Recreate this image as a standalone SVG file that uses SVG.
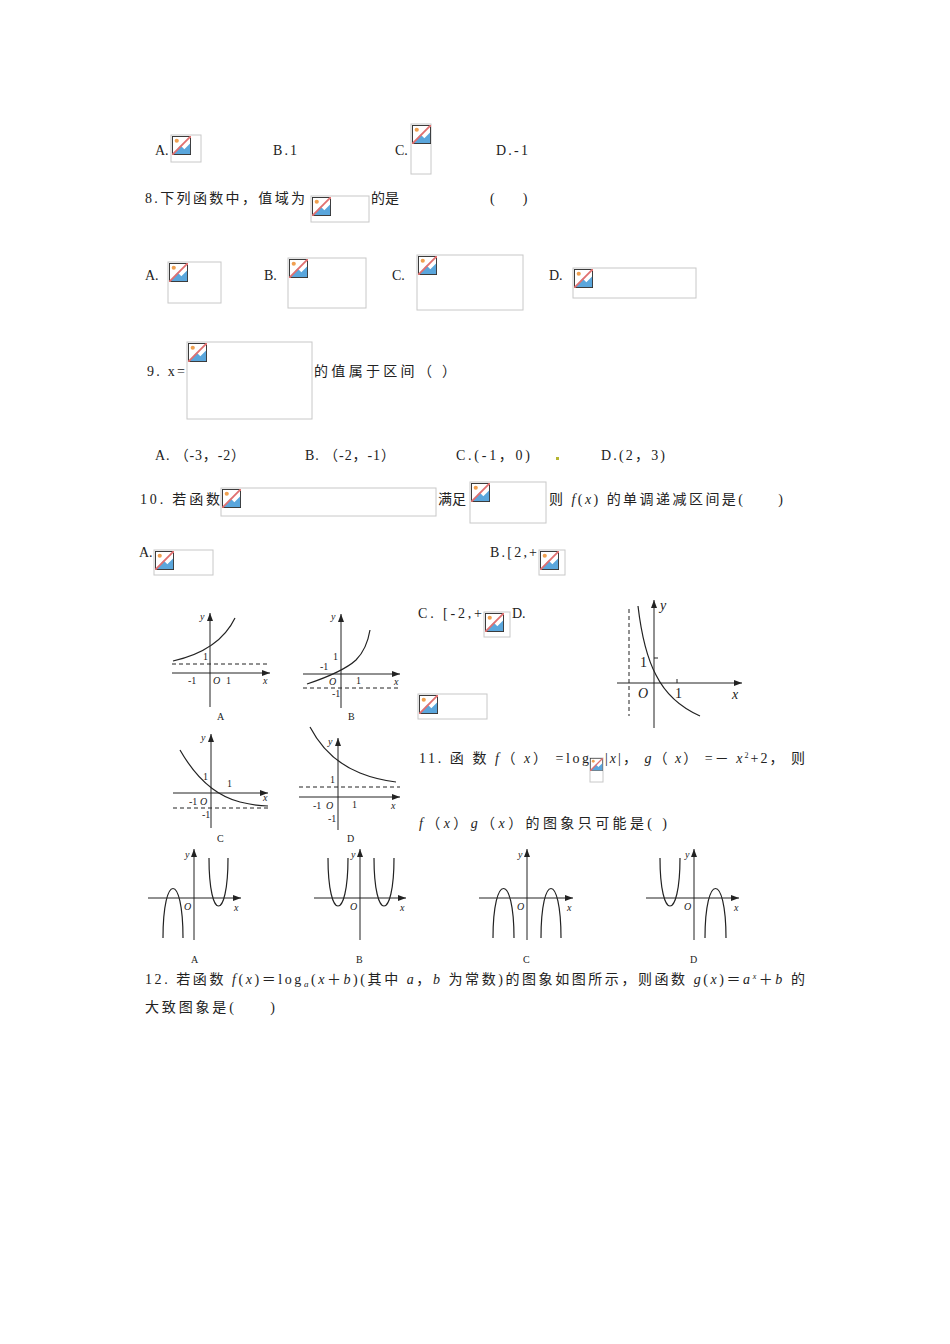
<svg xmlns="http://www.w3.org/2000/svg" width="950" height="1344" viewBox="0 0 950 1344">
<style>
text{font-family:"Liberation Serif","Noto Sans CJK SC",serif;font-size:14px;fill:#222}
.s{font-size:10px}
.i{font-style:italic}
.ph{fill:none;stroke:#c8c8c8;stroke-width:1}
.ax{stroke:#222;stroke-width:1;fill:none}
.cv{stroke:#222;stroke-width:1.2;fill:none}
.ds{stroke:#222;stroke-width:1;stroke-dasharray:4,3;fill:none}
</style>
<defs>
<symbol id="ic" viewBox="0 0 20 20">
<rect x="0.5" y="0.5" width="19" height="19" fill="#fff" stroke="#333"/>
<path d="M1 19 L9 10 L13 14 L19 8 L19 19 Z" fill="#5aa6dc"/>
<circle cx="5" cy="5" r="2.2" fill="#f0a050"/>
<line x1="0" y1="20" x2="20" y2="0" stroke="#e07070" stroke-width="2"/>
</symbol>
<marker id="ar" viewBox="0 0 8 6" refX="8" refY="3" markerWidth="8" markerHeight="6" orient="auto"><path d="M0 0 L8 3 L0 6 Z" fill="#222"/></marker>
</defs>
<!-- row 1 -->
<text x="155" y="155">A.</text><rect class="ph" x="171" y="135" width="30" height="27"/><use href="#ic" x="172" y="136" width="19" height="19"/>
<text x="273" y="155" textLength="24" lengthAdjust="spacing">B.1</text>
<text x="395" y="155">C.</text><rect class="ph" x="411" y="124" width="20" height="50"/><use href="#ic" x="412" y="125" width="19" height="19"/>
<text x="496" y="155" textLength="32" lengthAdjust="spacing">D.-1</text>
<!-- 8 -->
<text x="145" y="203" textLength="160" lengthAdjust="spacing">8.下列函数中，值域为</text><rect class="ph" x="311" y="196" width="58" height="26"/><use href="#ic" x="312" y="197" width="19" height="19"/>
<text x="371" y="203">的是</text><text x="490" y="203">(　　)</text>
<text x="145" y="280">A.</text><rect class="ph" x="168" y="262" width="53" height="41"/><use href="#ic" x="169" y="263" width="19" height="19"/>
<text x="264" y="280">B.</text><rect class="ph" x="288" y="258" width="78" height="50"/><use href="#ic" x="289" y="259" width="19" height="19"/>
<text x="392" y="280">C.</text><rect class="ph" x="417" y="255" width="106" height="55"/><use href="#ic" x="418" y="256" width="19" height="19"/>
<text x="549" y="280">D.</text><rect class="ph" x="573" y="268" width="123" height="30"/><use href="#ic" x="574" y="269" width="19" height="19"/>
<!-- 9 -->
<text x="147" y="376" textLength="38" lengthAdjust="spacing">9.  x=</text><rect class="ph" x="187" y="342" width="125" height="77"/><use href="#ic" x="188" y="343" width="19" height="19"/>
<text x="314" y="376" textLength="142" lengthAdjust="spacing">的值属于区间（    ）</text>
<text x="155" y="460" textLength="90" lengthAdjust="spacing">A. （-3，-2）</text><text x="305" y="460" textLength="90" lengthAdjust="spacing">B. （-2，-1）</text><text x="456" y="460" textLength="74" lengthAdjust="spacing">C.(-1，0)</text>
<rect x="556" y="457" width="3" height="3" fill="#b5b530"/>
<text x="601" y="460" textLength="64" lengthAdjust="spacing">D.(2，3)</text>
<!-- 10 -->
<text x="140" y="504" textLength="80" lengthAdjust="spacing">10.  若函数</text><rect class="ph" x="221" y="488" width="215" height="28"/><use href="#ic" x="222" y="489" width="19" height="19"/>
<text x="438" y="504">满足</text><rect class="ph" x="470" y="482" width="76" height="41"/><use href="#ic" x="471" y="483" width="19" height="19"/>
<text x="549" y="504" textLength="234" lengthAdjust="spacing">则 <tspan class="i">f</tspan>(<tspan class="i">x</tspan>) 的单调递减区间是(　　)</text>
<text x="139" y="557">A.</text><rect class="ph" x="154" y="550" width="59" height="25"/><use href="#ic" x="155" y="551" width="19" height="19"/>
<text x="490" y="557" textLength="47" lengthAdjust="spacing">B.[2,+</text><rect class="ph" x="539" y="550" width="26" height="25"/><use href="#ic" x="540" y="551" width="19" height="19"/>
<text x="418" y="618" textLength="64" lengthAdjust="spacing">C.  [-2,+</text><rect class="ph" x="484" y="612" width="26" height="25"/><use href="#ic" x="485" y="613" width="19" height="19"/>
<text x="512" y="618">D.</text>
<rect class="ph" x="418" y="694" width="69" height="25"/><use href="#ic" x="419" y="695" width="19" height="19"/>
<!-- right graph -->
<g id="graph-right">
<line class="ax" x1="617" y1="683" x2="742" y2="683" marker-end="url(#ar)"/>
<line class="ax" x1="654" y1="728" x2="654" y2="600" marker-end="url(#ar)"/>
<line class="ds" x1="629" y1="609" x2="629" y2="716"/>
<path class="cv" d="M638 606 C642 640 648 660 656 675 C666 695 682 708 700 716"/>
<line class="ax" x1="654" y1="658" x2="658" y2="658"/><line class="ax" x1="677" y1="683" x2="677" y2="679"/>
<text class="i" x="660" y="610">y</text><text x="640" y="667">1</text><text class="i" x="638" y="698">O</text><text x="675" y="698">1</text><text class="i" x="732" y="699">x</text>
</g>
<!-- 11 -->
<text x="419" y="763" textLength="170" lengthAdjust="spacing">11.  函 数 <tspan class="i">f</tspan>（ <tspan class="i">x</tspan>） =log</text>
<rect class="ph" x="590" y="758" width="13" height="24"/><use href="#ic" x="590" y="758" width="13" height="13"/>
<text x="605" y="763" textLength="200" lengthAdjust="spacing">|<tspan class="i">x</tspan>|， <tspan class="i">g</tspan>（ <tspan class="i">x</tspan>） =－ <tspan class="i">x</tspan><tspan font-size="8" dy="-5">2</tspan><tspan dy="5">+2， 则</tspan></text>
<text x="419" y="828" textLength="248" lengthAdjust="spacing"><tspan class="i">f</tspan>（<tspan class="i">x</tspan>）<tspan class="i">g</tspan>（<tspan class="i">x</tspan>）的图象只可能是(   )</text>
<!-- four small graphs -->
<g id="g10A">
<line class="ax" x1="172" y1="673" x2="270" y2="673" marker-end="url(#ar)"/><line class="ax" x1="210" y1="707" x2="210" y2="613" marker-end="url(#ar)"/>
<line class="ds" x1="172" y1="664" x2="270" y2="664"/>
<path class="cv" d="M173 661 C195 656 222 645 235 618"/>
<text class="s i" x="200" y="620">y</text><text class="s" x="203" y="660">1</text><text class="s" x="188" y="684">-1</text><text class="s i" x="213" y="684">O</text><text class="s" x="226" y="684">1</text><text class="s i" x="263" y="684">x</text>
<text class="s" x="217" y="720">A</text></g>
<g id="g10B">
<line class="ax" x1="303" y1="674" x2="400" y2="674" marker-end="url(#ar)"/><line class="ax" x1="341" y1="708" x2="341" y2="614" marker-end="url(#ar)"/>
<line class="ds" x1="303" y1="688" x2="400" y2="688"/>
<path class="cv" d="M307 684 C325 678 345 670 356 660 C364 652 368 642 370 630"/>
<text class="s i" x="331" y="620">y</text><text class="s" x="333" y="660">1</text><text class="s" x="320" y="670">-1</text><text class="s i" x="329" y="685">O</text><text class="s" x="356" y="684">1</text><text class="s i" x="394" y="685">x</text><text class="s" x="332" y="697">-1</text>
<text class="s" x="348" y="720">B</text></g>
<g id="g10C">
<line class="ax" x1="173" y1="793" x2="268" y2="793" marker-end="url(#ar)"/><line class="ax" x1="211" y1="828" x2="211" y2="734" marker-end="url(#ar)"/>
<line class="ds" x1="173" y1="808" x2="268" y2="808"/>
<path class="cv" d="M180 750 C196 778 216 796 240 802 C252 805 262 806 268 806"/>
<text class="s i" x="201" y="741">y</text><text class="s" x="203" y="780">1</text><text class="s" x="227" y="787">1</text><text class="s" x="189" y="805">-1</text><text class="s i" x="200" y="805">O</text><text class="s i" x="263" y="801">x</text><text class="s" x="202" y="818">-1</text>
<text class="s" x="217" y="842">C</text></g>
<g id="g10D">
<line class="ax" x1="299" y1="797" x2="400" y2="797" marker-end="url(#ar)"/><line class="ax" x1="338" y1="830" x2="338" y2="738" marker-end="url(#ar)"/>
<line class="ds" x1="299" y1="787" x2="400" y2="787"/>
<path class="cv" d="M310 727 C322 750 340 765 360 773 C375 779 388 781 396 782"/>
<text class="s i" x="328" y="745">y</text><text class="s" x="330" y="783">1</text><text class="s" x="313" y="809">-1</text><text class="s i" x="326" y="809">O</text><text class="s" x="352" y="808">1</text><text class="s i" x="391" y="809">x</text><text class="s" x="328" y="822">-1</text>
<text class="s" x="347" y="842">D</text></g>
<!-- bottom graphs -->
<g id="g11A">
<line class="ax" x1="148" y1="898" x2="241" y2="898" marker-end="url(#ar)"/><line class="ax" x1="194" y1="940" x2="194" y2="849" marker-end="url(#ar)"/>
<path class="cv" d="M163 938 C163 872 183 872 183 938"/><path class="cv" d="M209 858 C209 922 228 922 228 858"/>
<text class="s i" x="185" y="858">y</text><text class="s i" x="184" y="910">O</text><text class="s i" x="234" y="911">x</text><text class="s" x="191" y="963">A</text></g>
<g id="g11B">
<line class="ax" x1="314" y1="898" x2="406" y2="898" marker-end="url(#ar)"/><line class="ax" x1="360" y1="940" x2="360" y2="849" marker-end="url(#ar)"/>
<path class="cv" d="M328 858 C328 922 348 922 348 858"/><path class="cv" d="M374 858 C374 922 394 922 394 858"/>
<text class="s i" x="351" y="858">y</text><text class="s i" x="350" y="910">O</text><text class="s i" x="400" y="911">x</text><text class="s" x="356" y="963">B</text></g>
<g id="g11C">
<line class="ax" x1="479" y1="898" x2="573" y2="898" marker-end="url(#ar)"/><line class="ax" x1="527" y1="940" x2="527" y2="849" marker-end="url(#ar)"/>
<path class="cv" d="M493 938 C493 872 514 872 514 938"/><path class="cv" d="M541 938 C541 872 561 872 561 938"/>
<text class="s i" x="518" y="858">y</text><text class="s i" x="517" y="910">O</text><text class="s i" x="567" y="911">x</text><text class="s" x="523" y="963">C</text></g>
<g id="g11D">
<line class="ax" x1="646" y1="898" x2="739" y2="898" marker-end="url(#ar)"/><line class="ax" x1="694" y1="940" x2="694" y2="849" marker-end="url(#ar)"/>
<path class="cv" d="M660 858 C660 922 680 922 680 858"/><path class="cv" d="M705 938 C705 872 726 872 726 938"/>
<text class="s i" x="685" y="858">y</text><text class="s i" x="684" y="910">O</text><text class="s i" x="734" y="911">x</text><text class="s" x="690" y="963">D</text></g>
<!-- 12 -->
<text x="145" y="984" textLength="660" lengthAdjust="spacing">12.  若函数 <tspan class="i">f</tspan>(<tspan class="i">x</tspan>)＝log<tspan font-size="9" dy="3" class="i">a</tspan><tspan dy="-3">(</tspan><tspan class="i">x</tspan>＋<tspan class="i">b</tspan>)(其中 <tspan class="i">a</tspan>，<tspan class="i">b</tspan> 为常数)的图象如图所示，则函数 <tspan class="i">g</tspan>(<tspan class="i">x</tspan>)＝<tspan class="i">a</tspan><tspan font-size="8" dy="-5" class="i">x</tspan><tspan dy="5">＋</tspan><tspan class="i">b</tspan> 的</text>
<text x="145" y="1012" textLength="130" lengthAdjust="spacing">大致图象是(　　)</text>
</svg>
